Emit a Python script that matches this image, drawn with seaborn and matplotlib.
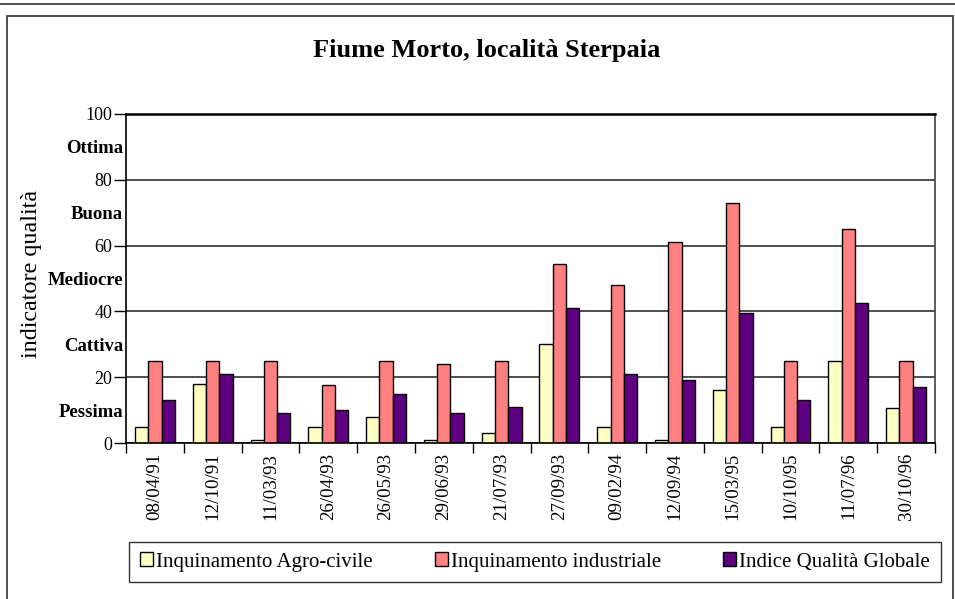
import numpy as np
import pandas as pd
import matplotlib
matplotlib.use("Agg")
import matplotlib.pyplot as plt
import seaborn as sns
from matplotlib.patches import Rectangle
from matplotlib.lines import Line2D

# ---- data ----
dates = ["08/04/91", "12/10/91", "11/03/93", "26/04/93", "26/05/93", "29/06/93", "21/07/93",
         "27/09/93", "09/02/94", "12/09/94", "15/03/95", "10/10/95", "11/07/96", "30/10/96"]
agro_civile = [5, 18, 1, 5, 8, 1, 3, 30, 5, 1, 16, 5, 25, 10.5]
industriale = [25, 25, 25, 17.5, 25, 24, 25, 54.5, 48, 61, 73, 25, 65, 25]
qualita_globale = [13, 21, 9, 10, 15, 9, 11, 41, 21, 19, 39.5, 13, 42.5, 17]
series_names = ["Inquinamento Agro-civile", "Inquinamento industriale", "Indice Qualità Globale"]
colors = ["#FFFFC4", "#FF8080", "#5F0080"]
y_ticks = [0, 20, 40, 60, 80, 100]
quality_values = [10, 30, 50, 70, 90]
quality_labels = ["Pessima", "Cattiva", "Mediocre", "Buona", "Ottima"]
title = "Fiume Morto, località Sterpaia"
ylabel = "indicatore qualità"

sns.set_style("white")
plt.rcParams["font.family"] = ["Liberation Serif", "DejaVu Serif"]
plt.rcParams["text.color"] = "black"
plt.rcParams["axes.labelcolor"] = "black"
plt.rcParams["xtick.color"] = "black"
plt.rcParams["ytick.color"] = "black"

df = pd.DataFrame({"data": dates * 3,
                   "valore": agro_civile + industriale + qualita_globale,
                   "serie": [series_names[0]] * len(dates) + [series_names[1]] * len(dates)
                            + [series_names[2]] * len(dates)})

W, H = 955, 599
fig = plt.figure(figsize=(W / 100, H / 100), dpi=100)
ax = fig.add_axes([126 / W, 1 - 443 / H, 809 / W, 329 / H])

sns.barplot(data=df, x="data", y="valore", hue="serie", hue_order=series_names,
            order=dates, palette=colors, saturation=1, edgecolor="black",
            linewidth=1, width=0.69, ax=ax, legend=True)

handles, labels = ax.get_legend_handles_labels()
ax.get_legend().remove()

ax.set_xlim(-0.5, len(dates) - 0.5)
ax.set_ylim(0, 100)
ax.set_xlabel("")
ax.set_ylabel("")

# y axis
ax.set_yticks(y_ticks)
ax.set_yticklabels([str(v) for v in y_ticks])
ax.set_yticks(quality_values, minor=True)
ax.set_yticklabels(quality_labels, minor=True, fontweight="bold", fontsize=13.5)
ax.tick_params(axis="y", which="major", left=True, length=9, width=1, direction="out",
               pad=1, labelsize=13, color="black")
ax.tick_params(axis="y", which="minor", left=True, length=0, pad=2)
ax.yaxis.grid(True, which="major", color="#404040", linewidth=1.3)
ax.set_axisbelow(True)

# x axis
ax.set_xticks(range(len(dates)))
ax.set_xticklabels(dates, rotation=90)
ax.set_xticks(np.arange(-0.5, len(dates)), minor=True)
ax.tick_params(axis="x", which="major", bottom=True, length=0, pad=7, labelsize=13.6)
ax.tick_params(axis="x", which="minor", bottom=True, length=7, width=1, color="black")

for side in ["left", "bottom"]:
    ax.spines[side].set_color("black")
    ax.spines[side].set_linewidth(1.2)
ax.spines["top"].set_color("black")
ax.spines["top"].set_linewidth(1.8)
ax.spines["right"].set_color("#404040")
ax.spines["right"].set_linewidth(1.2)

# texts
fig.text(487 / W, 1 - 50 / H, title, fontsize=19, fontweight="bold", ha="center", va="center")
fig.text(32 / W, 1 - 274 / H, ylabel, rotation=90, fontsize=17.4, ha="center", va="center")

leg = fig.legend(handles, labels, loc="center", bbox_to_anchor=(535 / W, 1 - 562 / H),
                 ncol=3, frameon=True, fancybox=False, edgecolor="black", fontsize=15,
                 handlelength=0.65, handleheight=0.65, handletextpad=0.15,
                 columnspacing=2.95, borderpad=0.5)
leg.get_frame().set_linewidth(1)

# outer frames
fig.add_artist(Line2D([0, 1], [1 - 3.5 / H, 1 - 3.5 / H], transform=fig.transFigure,
                      color="#404040", linewidth=1.3))
fig.add_artist(Rectangle((7 / W, -0.02), (953 - 7) / W, 1 - 16 / H + 0.02,
                         transform=fig.transFigure, fill=False, edgecolor="#404040",
                         linewidth=1.3))

fig.savefig("out.png", dpi=100)
